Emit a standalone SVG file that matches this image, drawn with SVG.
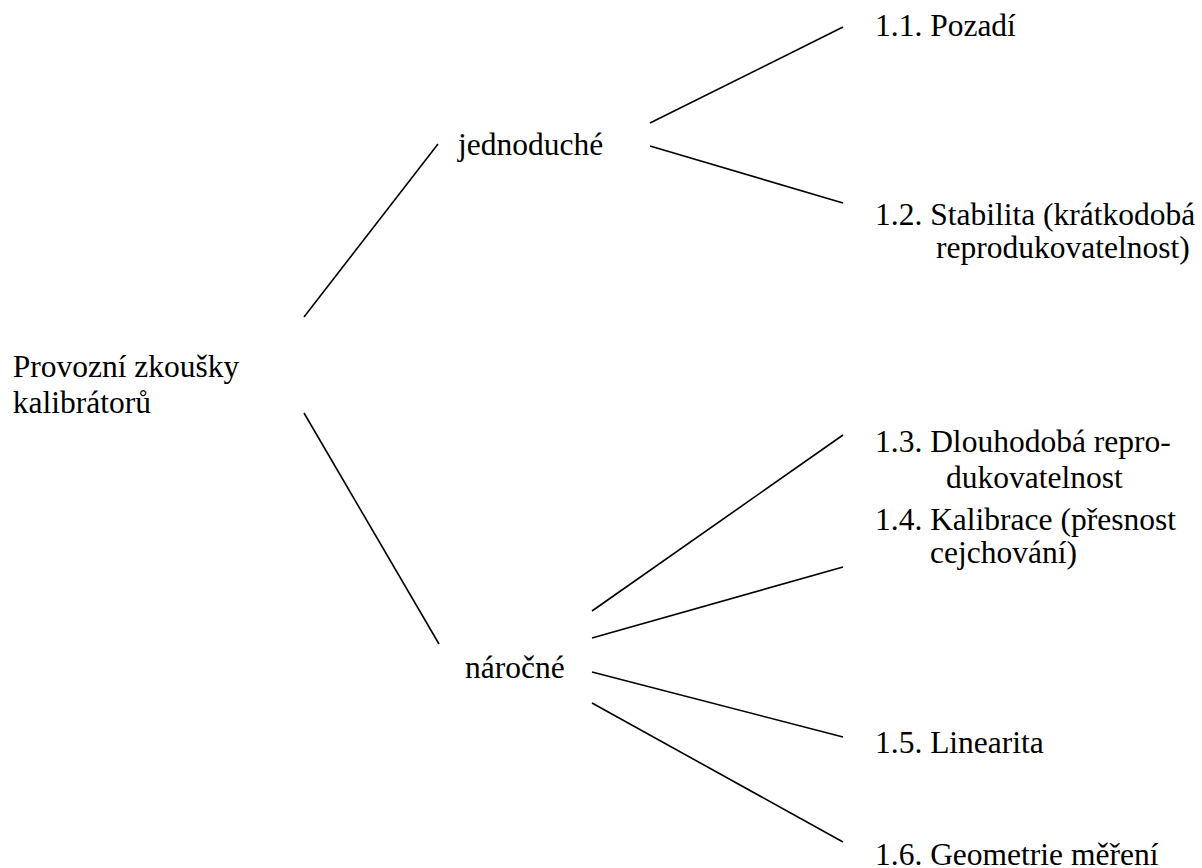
<svg xmlns="http://www.w3.org/2000/svg" width="1202" height="868" viewBox="0 0 1202 868">
<style>
text{font-family:'Liberation Serif','Times New Roman',Times,serif;font-size:31.5px;fill:#000}
.c line{stroke:#000;stroke-width:1.6;fill:none}
</style>
<rect width="1202" height="868" fill="#fff"/>
<g id="root"><text x="12.7" y="377">Provozní zkoušky</text><text x="12.7" y="413">kalibrátorů</text></g>
<g id="jednoduche"><text x="458" y="155">jednoduché</text></g>
<g id="narocne"><text x="465" y="678">náročné</text></g>
<g id="n11"><text x="875" y="36">1.1. Pozadí</text></g>
<g id="n12"><text x="875" y="225">1.2. Stabilita (krátkodobá</text><text x="936" y="258">reprodukovatelnost)</text></g>
<g id="n13"><text x="875" y="452">1.3. Dlouhodobá repro-</text><text x="946" y="488">dukovatelnost</text></g>
<g id="n14"><text x="875" y="530">1.4. Kalibrace (přesnost</text><text x="930" y="563">cejchování)</text></g>
<g id="n15"><text x="875" y="753">1.5. Linearita</text></g>
<g id="n16"><text x="875" y="865">1.6. Geometrie měření</text></g>
<g class="c" id="connectors">
<line x1="304" y1="317" x2="438" y2="144"/>
<line x1="304" y1="413" x2="439" y2="644"/>
<line x1="650" y1="123" x2="843" y2="27"/>
<line x1="650" y1="146" x2="843" y2="203"/>
<line x1="592" y1="611" x2="843" y2="435"/>
<line x1="592" y1="638" x2="843" y2="567"/>
<line x1="592" y1="672" x2="843" y2="737"/>
<line x1="592" y1="703" x2="843" y2="842"/>
</g>
</svg>
